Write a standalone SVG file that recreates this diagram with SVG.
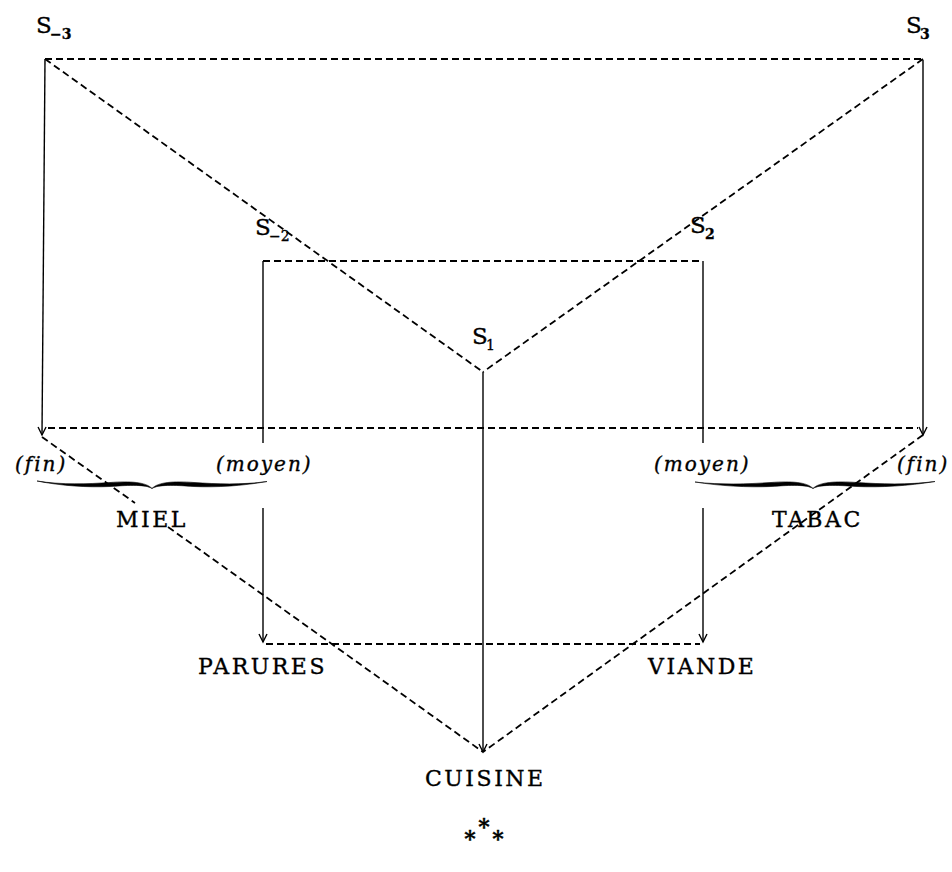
<svg xmlns="http://www.w3.org/2000/svg" width="952" height="872" viewBox="0 0 952 872">
<style>
.bg{fill:#fff}
.d{fill:none;stroke:#000;stroke-width:1.8;stroke-dasharray:7 4}
.s{fill:none;stroke:#000;stroke-width:1.4}
.t{font-family:"DejaVu Serif","Liberation Serif",serif;fill:#000;stroke:#000;stroke-width:0.35}
.S{font-size:23px}
.sub{font-size:14px}
.b{font-weight:bold}
.cap{font-size:22px;letter-spacing:2.5px}
.it{font-size:20px;font-style:italic;letter-spacing:2px}
.br{fill:#000;stroke:#000;stroke-width:0.6}
.ast{font-size:22px;font-weight:bold}
</style>
<defs>
<marker id="arr" viewBox="-10 -6 12 12" refX="0" refY="0" markerWidth="12" markerHeight="12" orient="auto" markerUnits="userSpaceOnUse">
<path d="M-8,-4 L0,0 L-8,4" fill="none" stroke="#000" stroke-width="1.4"/>
</marker>
</defs>
<rect class="bg" width="952" height="872"/>
<g id="connectors">
<line class="d" x1="45" y1="59" x2="923" y2="59"/>
<line class="d" x1="45" y1="59" x2="483" y2="372"/>
<line class="d" x1="923" y1="59" x2="483" y2="372"/>
<line class="d" x1="263" y1="261" x2="703" y2="261"/>
<line class="d" x1="48" y1="428" x2="918" y2="428"/>
<line class="d" x1="42" y1="437" x2="135" y2="503"/>
<line class="d" x1="168" y1="527" x2="483" y2="752"/>
<line class="d" x1="923" y1="435" x2="483" y2="752"/>
<line class="d" x1="266" y1="644" x2="700" y2="644"/>
<line class="s" x1="45" y1="59" x2="42" y2="435" marker-end="url(#arr)"/>
<line class="s" x1="923" y1="60" x2="923" y2="435" marker-end="url(#arr)"/>
<line class="s" x1="263" y1="261" x2="263" y2="443"/>
<line class="s" x1="263" y1="508" x2="263" y2="642" marker-end="url(#arr)"/>
<line class="s" x1="703" y1="261" x2="703" y2="443"/>
<line class="s" x1="703" y1="508" x2="703" y2="642" marker-end="url(#arr)"/>
<line class="s" x1="483" y1="372" x2="483" y2="752" marker-end="url(#arr)"/>
</g>
<g id="S-3"><text class="t S" x="36" y="33">S</text><text class="t sub b" x="50" y="39">−3</text></g>
<g id="S3"><text class="t S" x="906" y="33">S</text><text class="t sub b" x="920" y="39">3</text></g>
<g id="S-2"><text class="t S" x="255" y="235">S</text><text class="t sub" x="269" y="241">−2</text></g>
<g id="S2"><text class="t S" x="690" y="233">S</text><text class="t sub b" x="705" y="239">2</text></g>
<g id="S1"><text class="t S" x="472" y="344">S</text><text class="t sub" x="486" y="350">1</text></g>
<g id="fin-left"><text class="t it" x="15" y="471">(fin)</text></g>
<g id="moyen-left"><text class="t it" x="216" y="471">(moyen)</text></g>
<g id="moyen-right"><text class="t it" x="654" y="471">(moyen)</text></g>
<g id="fin-right"><text class="t it" x="897" y="471">(fin)</text></g>
<g id="brace-left">
<path class="br" d="M37,481 C62,485 88,484 110,482.5 C130,481 146,482 152,488.5 C146,484.5 130,485 110,486.5 C88,487.5 62,486 37,481 Z"/>
<path class="br" d="M152,488.5 C158,482 174,481 194,482.5 C216,484 242,485 267,481.5 C242,486 216,487.5 194,486.5 C174,485 158,484.5 152,488.5 Z"/>
</g>
<g id="brace-right">
<path class="br" d="M695,482 C720,485 748,484 771,482.5 C791,481 807,482 813,488.5 C807,484.5 791,485 771,486.5 C748,487.5 720,486 695,482 Z"/>
<path class="br" d="M813,488.5 C819,482 836,481 857,482.5 C880,484 908,485 935,481.5 C908,486 880,487.5 857,486.5 C836,485 819,484.5 813,488.5 Z"/>
</g>
<g id="MIEL"><text class="t cap" x="116" y="527">MIEL</text></g>
<g id="TABAC"><text class="t cap" x="772" y="527">TABAC</text></g>
<g id="PARURES"><text class="t cap" x="198" y="674">PARURES</text></g>
<g id="VIANDE"><text class="t cap" x="648" y="674">VIANDE</text></g>
<g id="CUISINE"><text class="t cap" x="425" y="786">CUISINE</text></g>
<g id="asterisks">
<text class="t ast" x="484" y="834" text-anchor="middle">*</text>
<text class="t ast" x="470" y="846" text-anchor="middle">*</text>
<text class="t ast" x="498" y="846" text-anchor="middle">*</text>
</g>
</svg>
